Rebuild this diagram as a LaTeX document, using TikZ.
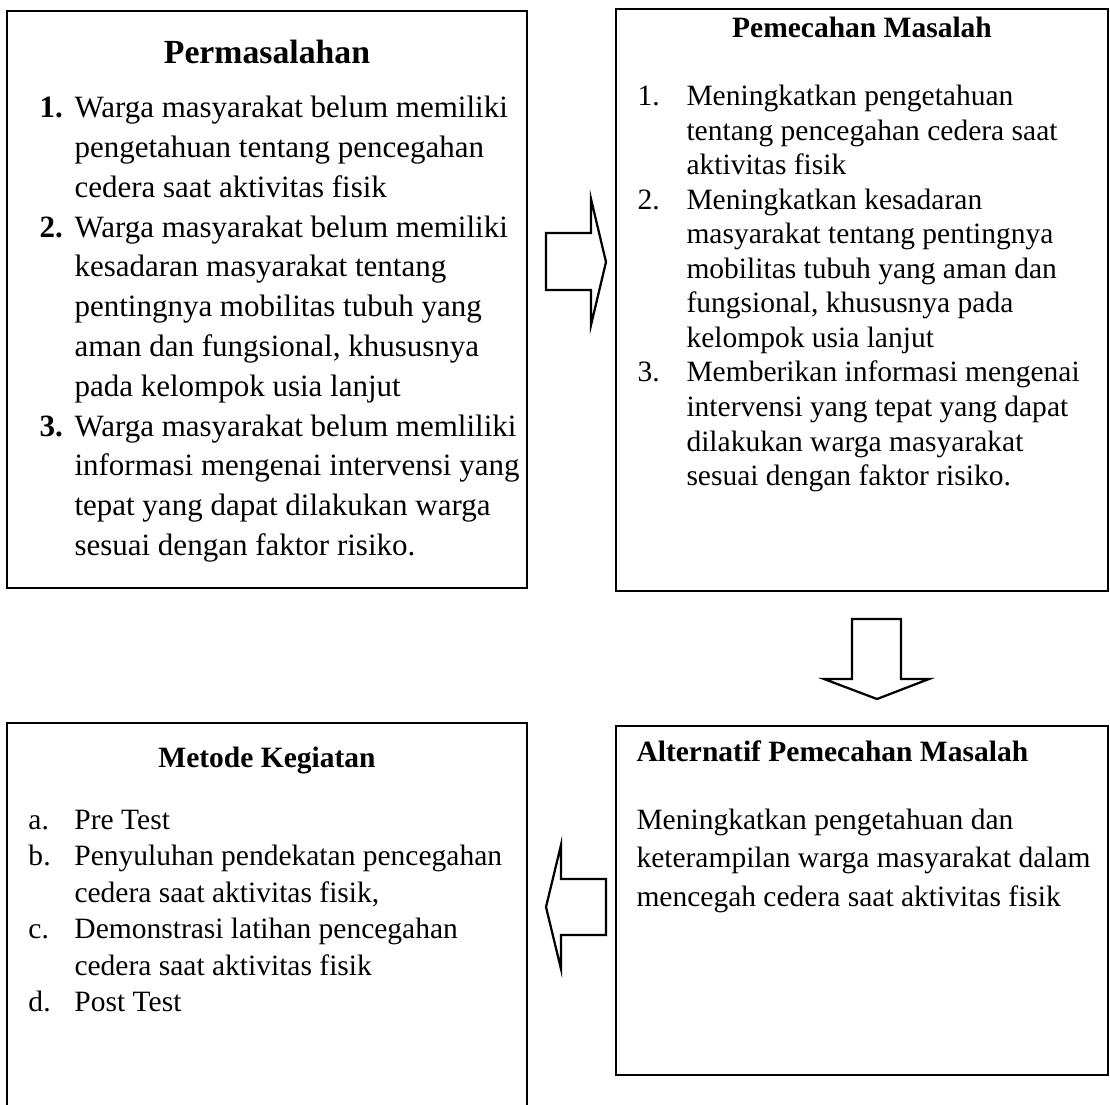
\documentclass[tikz,border=0pt]{standalone}
\usepackage{fontspec}
\setmainfont{Liberation Serif}
\usepackage{array}
\definecolor{flowline}{HTML}{000000}

\tikzset{
  flowbox/.style={rectangle, draw=flowline, line width=1pt, inner sep=0pt, outer sep=0pt},
  headtext/.style={anchor=base, inner sep=0pt},
  listtext/.style={anchor=base west, inner sep=0pt},
  blockarrow/.style={draw=flowline, line width=0.9pt, line join=miter, fill=white}
}

\begin{document}
\begin{tikzpicture}[x=0.4pt, y=-0.4pt]
            \useasboundingbox (0,0) rectangle (1110,1104);
            \clip (0,0) rectangle (1110,1104);

            % Permasalahan
            \node[flowbox, minimum width=208pt, minimum height=230.8pt] (problem) at (267,299.5) {};
            \node[headtext, font=\fontsize{13.5}{16}\selectfont\bfseries] (problemhead) at (267,64)
                {Permasalahan};
            \node[listtext, font=\fontsize{12.4}{15.9}\selectfont] (problemlist) at (39,118)
                {\begin{tabular}[t]{@{}p{14pt}@{}l@{}}
                \textbf{1.} & Warga masyarakat belum memiliki\\
                 & pengetahuan tentang pencegahan\\
                 & cedera saat aktivitas fisik\\
                \textbf{2.} & Warga masyarakat belum memiliki\\
                 & kesadaran masyarakat tentang\\
                 & pentingnya mobilitas tubuh yang\\
                 & aman dan fungsional, khususnya\\
                 & pada kelompok usia lanjut\\
                \textbf{3.} & Warga masyarakat belum memliliki\\
                 & informasi mengenai intervensi yang\\
                 & tepat yang dapat dilakukan warga\\
                 & sesuai dengan faktor risiko.
                \end{tabular}};

            % Pemecahan Masalah
            \node[flowbox, minimum width=196.8pt, minimum height=232.8pt] (solution) at (862,300) {};
            \node[headtext, font=\fontsize{11.8}{14}\selectfont\bfseries] (solutionhead) at (862,38)
                {Pemecahan Masalah};
            \node[listtext, font=\fontsize{11.8}{13.8}\selectfont] (solutionlist) at (637,106)
                {\begin{tabular}[t]{@{}p{19.6pt}@{}l@{}}
                1. & Meningkatkan pengetahuan\\
                 & tentang pencegahan cedera saat\\
                 & aktivitas fisik\\
                2. & Meningkatkan kesadaran\\
                 & masyarakat tentang pentingnya\\
                 & mobilitas tubuh yang aman dan\\
                 & fungsional, khususnya pada\\
                 & kelompok usia lanjut\\
                3. & Memberikan informasi mengenai\\
                 & intervensi yang tepat yang dapat\\
                 & dilakukan warga masyarakat\\
                 & sesuai dengan faktor risiko.
                \end{tabular}};

            % Metode Kegiatan
            \node[flowbox, minimum width=208pt, minimum height=156.8pt] (method) at (267,919) {};
            \node[headtext, font=\fontsize{11.8}{14}\selectfont\bfseries] (methodhead) at (267,767)
                {Metode Kegiatan};
            \node[listtext, font=\fontsize{11.8}{14.6}\selectfont] (methodlist) at (28,829)
                {\begin{tabular}[t]{@{}p{18.4pt}@{}l@{}}
                a. & Pre Test\\
                b. & Penyuluhan pendekatan pencegahan\\
                 & cedera saat aktivitas fisik,\\
                c. & Demonstrasi latihan pencegahan\\
                 & cedera saat aktivitas fisik\\
                d. & Post Test
                \end{tabular}};

            % Alternatif Pemecahan Masalah
            \node[flowbox, minimum width=196.8pt, minimum height=139.6pt] (alternative) at (862,900.5) {};
            \node[listtext, font=\fontsize{11.8}{14}\selectfont\bfseries] (alternativehead) at (636,761)
                {Alternatif Pemecahan Masalah};
            \node[listtext, font=\fontsize{11.8}{15.4}\selectfont] (alternativetext) at (636,829)
                {\begin{tabular}[t]{@{}l@{}}
                Meningkatkan pengetahuan dan\\
                keterampilan warga masyarakat dalam\\
                mencegah cedera saat aktivitas fisik
                \end{tabular}};

            % block arrows between the boxes
            \draw[blockarrow] (546,233) -- (591,233) -- (591,199) -- (606,262)
                -- (591,325) -- (591,290) -- (546,290) -- cycle;
            \draw[blockarrow] (852,619) -- (901,619) -- (901,679) -- (929,679)
                -- (877,699) -- (824,679) -- (852,679) -- cycle;
            \draw[blockarrow] (606,879) -- (561,879) -- (561,845) -- (546,907)
                -- (561,969) -- (561,935) -- (606,935) -- cycle;
        \end{tikzpicture}
\end{document}
